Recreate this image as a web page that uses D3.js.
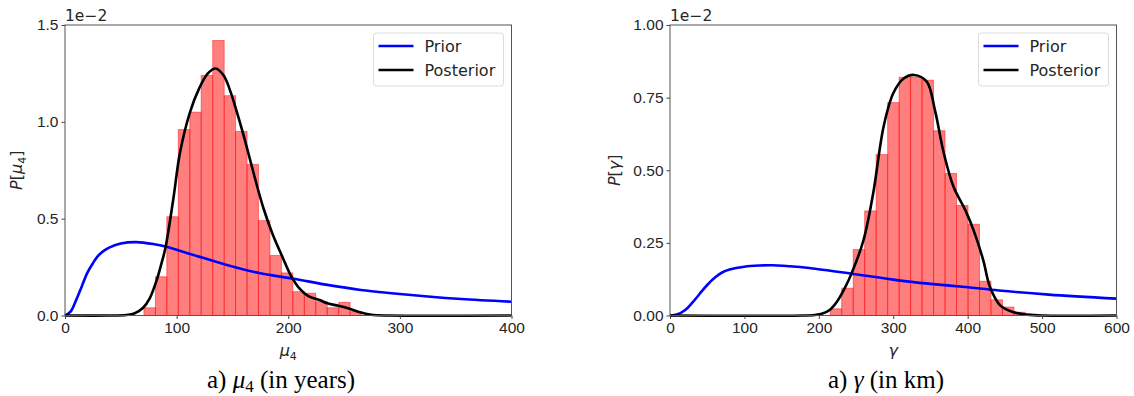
<!DOCTYPE html>
<html>
<head>
<meta charset="utf-8">
<script src="https://cdn.jsdelivr.net/npm/d3@7"></script>
<style>
  body{margin:0;background:#fff}
  svg{display:block;font-family:"DejaVu Sans",sans-serif}
  .tick text{font-size:15.5px;fill:#262626}
  .tick line{stroke:#444}
</style>
</head>
<body>
<div id="grafico"></div>
<script>
// all densities in units of 1e-2

// left panel: mu_4
const muEdges=[70.7,81.0,91.2,101.5,111.8,122.0,132.3,142.6,152.8,163.1,173.3,183.6,193.9,204.1,214.4,224.6,234.9,245.2,255.4,265.7];
const muHeights=[0.04,0.20,0.51,0.96,1.05,1.24,1.42,1.135,0.95,0.78,0.49,0.31,0.22,0.123,0.115,0.071,0.04,0.068,0.02];
const muPriorX=[0,5,10,15,20,25,30,35,40,50,64,80,90,115,145,175,205,235,265,295,325,355,400];
const muPriorY=[0,0.02,0.08,0.15,0.22,0.27,0.31,0.335,0.352,0.372,0.379,0.368,0.356,0.313,0.261,0.218,0.19,0.158,0.132,0.114,0.098,0.085,0.071];
const muPostX=[0,40,55,62,70,76,82,86,90,97,103,112,120,128,135,142,148,154,160,166,172,178,186,195,202,210,218,228,235,245,255,265,276,290,400];
const muPostY=[0,0,0.003,0.01,0.04,0.09,0.18,0.26,0.35,0.60,0.84,1.05,1.17,1.25,1.275,1.24,1.16,1.05,0.93,0.80,0.67,0.55,0.42,0.30,0.21,0.14,0.10,0.08,0.063,0.05,0.035,0.015,0.003,0,0];
const muXTicks=[0,100,200,300,400];
const muYTicks=[0,0.5,1.0,1.5];

// right panel: gamma
const gamEdges=[215.3,230.7,246.2,261.6,277.0,292.5,307.9,323.3,338.7,354.2,369.6,385.0,400.5,415.9,431.3,446.8,462.2,477.6,493.0];
const gamHeights=[0.023,0.094,0.227,0.36,0.554,0.733,0.82,0.82,0.81,0.636,0.489,0.379,0.314,0.118,0.054,0.029,0.011,0.004];
const gamPriorX=[0,10,20,30,40,50,60,70,80,100,120,138,170,195,244,307,350,397,442,509,600];
const gamPriorY=[0,0.004,0.018,0.044,0.075,0.105,0.13,0.148,0.158,0.168,0.172,0.173,0.168,0.161,0.144,0.121,0.109,0.098,0.086,0.072,0.058];
const gamPostX=[0,180,195,204,215,225,235,244,260,273,287,300,314,328,345,356,368,381,397,408,421,430,444,462,480,500,600];
const gamPostY=[0,0,0.002,0.006,0.02,0.05,0.095,0.145,0.259,0.42,0.65,0.765,0.816,0.828,0.805,0.707,0.558,0.443,0.362,0.293,0.19,0.098,0.034,0.011,0.003,0,0];
const gamXTicks=[0,100,200,300,400,500,600];
const gamYTicks=[0,0.25,0.5,0.75,1.0];

const svg=d3.select("#grafico").append("svg")
  .attr("width",1134).attr("height",396);

let drawPanel=(o)=>{
  const x=d3.scaleLinear().domain(o.xDomain).range(o.xRange);
  const y=d3.scaleLinear().domain(o.yDomain).range(o.yRange);
  const g=svg.append("g");

  // histogram bars
  const bins=o.heights.map((h,i)=>({x0:o.edges[i],x1:o.edges[i+1],h:h}));
  g.selectAll("rect.bar").data(bins).enter().append("rect")
    .attr("class","bar")
    .attr("x",d=>x(d.x0))
    .attr("y",d=>y(d.h))
    .attr("width",d=>x(d.x1)-x(d.x0))
    .attr("height",d=>y(0)-y(d.h))
    .attr("fill","red").attr("fill-opacity",0.5)
    .attr("stroke","red").attr("stroke-opacity",0.45).attr("stroke-width",1);

  const line=d3.line().x(d=>x(d[0])).y(d=>y(Math.max(0,d[1]))).curve(d3.curveCatmullRom.alpha(0.5));
  g.append("path").datum(d3.zip(o.priorX,o.priorY))
    .attr("d",line).attr("fill","none").attr("stroke","#0000ff").attr("stroke-width",2.6);
  g.append("path").datum(d3.zip(o.postX,o.postY))
    .attr("d",line).attr("fill","none").attr("stroke","#000").attr("stroke-width",2.6);

  // frame
  g.append("rect")
    .attr("x",o.xRange[0]).attr("y",o.yRange[1])
    .attr("width",o.xRange[1]-o.xRange[0]).attr("height",o.yRange[0]-o.yRange[1])
    .attr("fill","none").attr("stroke","#555").attr("stroke-width",1);

  // axes
  g.append("g").attr("transform",`translate(0,${o.yRange[0]})`)
    .call(d3.axisBottom(x).tickValues(o.xTicks).tickSize(3.5).tickPadding(3).tickSizeOuter(0))
    .call(a=>a.select(".domain").remove());
  g.append("g").attr("transform",`translate(${o.xRange[0]},0)`)
    .call(d3.axisLeft(y).tickValues(o.yTicks).tickFormat(d3.format(o.yFmt)).tickSize(3.5).tickPadding(3).tickSizeOuter(0))
    .call(a=>a.select(".domain").remove());

  // offset text
  g.append("text").attr("x",o.xRange[0]).attr("y",o.yRange[1]-4)
    .style("font-size","15.5px").attr("fill","#262626").text("1e\u22122");

  // y label
  const yl=g.append("text")
    .attr("transform",`translate(${o.yLabelX},${(o.yRange[0]+o.yRange[1])/2}) rotate(-90)`)
    .style("text-anchor","middle").style("font-size","16px").attr("fill","#262626");
  yl.append("tspan").style("font-style","italic").text("P");
  yl.append("tspan").text("[");
  yl.append("tspan").style("font-style","italic").text(o.sym);
  if(o.sub){
    yl.append("tspan").attr("dy",4).style("font-size","11px").text(o.sub);
    yl.append("tspan").attr("dy",-4).text("]");
  } else yl.append("tspan").text("]");

  // x label
  const xl=g.append("text")
    .attr("x",(o.xRange[0]+o.xRange[1])/2).attr("y",356)
    .style("text-anchor","middle").style("font-size","16px").attr("fill","#262626");
  xl.append("tspan").style("font-style","italic").text(o.sym);
  if(o.sub) xl.append("tspan").attr("dy",4).style("font-size","11px").text(o.sub);

  // legend
  const lx=o.xRange[1]-138, ly=o.yRange[1]+8;
  g.append("rect").attr("x",lx).attr("y",ly).attr("width",130).attr("height",53).attr("rx",3)
    .attr("fill","#fff").attr("fill-opacity",0.8).attr("stroke","#dcdcdc");
  [["Prior","#0000ff"],["Posterior","#000"]].forEach((e,i)=>{
    g.append("line").attr("x1",lx+5).attr("x2",lx+40)
      .attr("y1",ly+13+i*24).attr("y2",ly+13+i*24)
      .attr("stroke",e[1]).attr("stroke-width",2.6);
    g.append("text").attr("x",lx+51).attr("y",ly+19+i*24)
      .style("font-size","16px").attr("fill","#262626").text(e[0]);
  });

  // caption
  const cap=svg.append("text").attr("x",o.capX).attr("y",388)
    .style("text-anchor","middle").style("font-family","'Liberation Serif',serif")
    .style("font-size","25px").attr("fill","#000");
  cap.append("tspan").text("a) ");
  cap.append("tspan").style("font-style","italic").text(o.sym);
  if(o.sub){
    cap.append("tspan").attr("dy",4).style("font-size","17px").text(o.sub);
    cap.append("tspan").attr("dy",-4).text(" "+o.capUnit);
  } else cap.append("tspan").text(" "+o.capUnit);
};

drawPanel({
  xDomain:[0,400],xRange:[65,511.5],yDomain:[0,1.5],yRange:[315.5,25],
  edges:muEdges,heights:muHeights,priorX:muPriorX,priorY:muPriorY,postX:muPostX,postY:muPostY,
  xTicks:muXTicks,yTicks:muYTicks,yFmt:".1f",
  sym:"\u03bc",sub:"4",yLabelX:22,capX:281,capUnit:"(in years)"
});
drawPanel({
  xDomain:[0,600],xRange:[670,1116.5],yDomain:[0,1],yRange:[315.5,25],
  edges:gamEdges,heights:gamHeights,priorX:gamPriorX,priorY:gamPriorY,postX:gamPostX,postY:gamPostY,
  xTicks:gamXTicks,yTicks:gamYTicks,yFmt:".2f",
  sym:"\u03b3",sub:null,yLabelX:620,capX:886,capUnit:"(in km)"
});
</script>
</body>
</html>
